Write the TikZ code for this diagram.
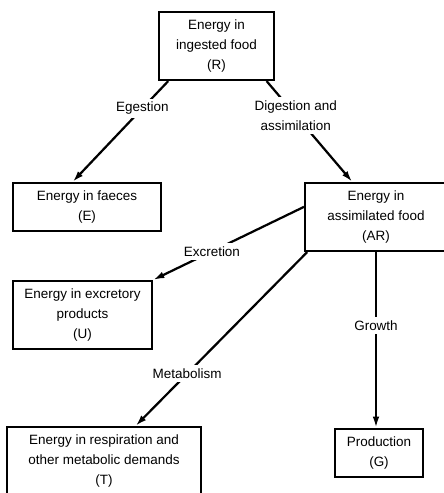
\documentclass[tikz,border=0pt]{standalone}
\usepackage{fontspec}
\setmainfont{Liberation Sans}
\usetikzlibrary{arrows.meta}

\begin{document}
\begin{tikzpicture}[
        x=0.03cm, y=-0.03cm,
        box/.style={rectangle, draw=black, line width=1.8pt, align=center, inner sep=2pt, font=\fontsize{11.5}{17}\selectfont},
        flow/.style={-{Latex[length=3.4mm, width=2mm]}, line width=1.9pt},
        lbl/.style={fill=white, inner sep=3pt, align=center, font=\fontsize{11.5}{17}\selectfont}
    ]
        \useasboundingbox (0,0) rectangle (444,493);

        % Ingested food (top)
        \node[box, minimum width=3.45cm, minimum height=2.04cm] (R) at (216.5, 46) {Energy in\\ingested food\\(R)};

        % Second row: faeces and assimilated food
        \node[box, minimum width=4.44cm, minimum height=1.44cm] (E) at (87, 207) {Energy in faeces\\(E)};
        \node[box, minimum width=4.26cm, minimum height=2.04cm] (AR) at (376, 217) {Energy in\\assimilated food\\(AR)};

        % Lower rows: excretion, respiration, production
        \node[box, minimum width=4.17cm, minimum height=2.04cm] (U) at (82.5, 315) {Energy in excretory\\products\\(U)};
        \node[box, minimum width=5.82cm, minimum height=2.04cm] (T) at (104, 461) {Energy in respiration and\\other metabolic demands\\(T)};
        \node[box, minimum width=2.64cm, minimum height=1.44cm] (G) at (379, 453) {Production\\(G)};

        % Connections from ingested food
        \draw[flow] (R.216) -- node[lbl, pos=0.27] {Egestion} (E.120);
        \draw[flow] (R.325) -- node[lbl, pos=0.34] {Digestion and\\assimilation} (AR.124);

        % Connections from assimilated food
        \draw[flow] (AR.172) -- node[lbl, pos=0.61] {Excretion} (U.north east);
        \draw[flow] (AR.207) -- node[lbl, pos=0.70] {Metabolism} (T.48);
        \draw[flow] (AR.south) -- node[lbl, pos=0.42] {Growth} (AR.south |- G.north);
    \end{tikzpicture}
\end{document}
